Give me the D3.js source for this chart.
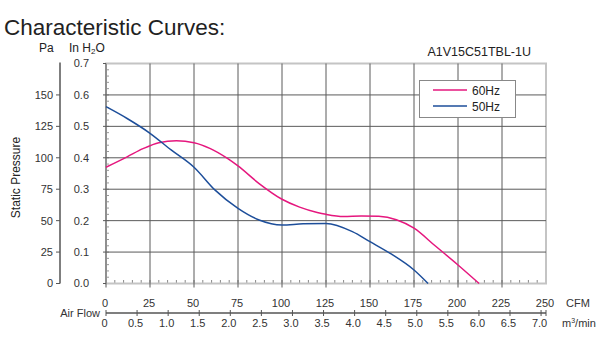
<!DOCTYPE html>
<html>
<head>
<meta charset="utf-8">
<script src="https://cdn.jsdelivr.net/npm/d3@7"></script>
<style>
  body { margin: 0; background: #fff; }
  svg { font-family: "Liberation Sans", Arial, sans-serif; }
  .lbl { font-size: 11px; fill: #333; }
</style>
</head>
<body>
<svg id="chart" width="600" height="350"></svg>
<script>
const cfm60 = [0, 12, 21, 30, 40, 50, 59, 69, 75, 87, 100, 110, 120, 125, 135, 145, 155, 165, 175, 187, 200, 212];
const p60 = [0.37, 0.403, 0.429, 0.448, 0.454, 0.448, 0.43, 0.398, 0.374, 0.318, 0.268, 0.243, 0.226, 0.22, 0.213, 0.215, 0.214, 0.203, 0.176, 0.12, 0.059, 0.0];
const cfm50 = [0, 12, 25, 37, 50, 62, 75, 87, 100, 112, 125, 140, 150, 162, 175, 183];
const p50 = [0.5625, 0.525, 0.478, 0.425, 0.37, 0.297, 0.239, 0.202, 0.186, 0.19, 0.191, 0.165, 0.133, 0.094, 0.043, 0.0];
const cfmTicks = [0, 25, 50, 75, 100, 125, 150, 175, 200, 225, 250];
const m3Ticks = [0, 0.5, 1, 1.5, 2, 2.5, 3, 3.5, 4, 4.5, 5, 5.5, 6, 6.5, 7];
const inTicks = [0, 0.1, 0.2, 0.3, 0.4, 0.5, 0.6, 0.7];
const paTicks = [0, 25, 50, 75, 100, 125, 150];
const series = [
  { name: "60Hz", color: "#e5177e", x: cfm60, y: p60 },
  { name: "50Hz", color: "#1d4e9a", x: cfm50, y: p50 }
];

const svg = d3.select("#chart");
const plotL = 106, plotR = 546, plotT = 63.5, plotB = 283.5;

const x = d3.scaleLinear().domain([0, 250]).range([plotL, plotR]);
const xm = d3.scaleLinear().domain([0, 250 / 35.3147]).range([plotL, plotR]);
const y = d3.scaleLinear().domain([0, 0.7]).range([plotB, plotT]);
const yPa = d3.scaleLinear().domain([0, 175]).range([plotB, plotT]);

// title
svg.append("text").attr("x", 4).attr("y", 35).attr("font-size", 22.5).attr("fill", "#222")
  .text("Characteristic Curves:");
svg.append("text").attr("x", 39).attr("y", 52).attr("font-size", 12).attr("fill", "#222").text("Pa");
const inh = svg.append("text").attr("x", 69).attr("y", 52).attr("font-size", 12).attr("fill", "#222");
inh.append("tspan").text("In H");
inh.append("tspan").attr("font-size", 8).attr("dy", 2).text("2");
inh.append("tspan").attr("dy", -2).text("O");
svg.append("text").attr("x", 531).attr("y", 56).attr("font-size", 12.5).attr("fill", "#222")
  .attr("text-anchor", "end").text("A1V15C51TBL-1U");

// minor ticks
const minorY = d3.range(0, 0.7001, 0.02);
svg.append("g").selectAll("line").data(minorY).join("line")
  .attr("x1", plotL).attr("x2", plotL + 3).attr("y1", d => y(d)).attr("y2", d => y(d))
  .attr("stroke", "#999").attr("stroke-width", 1);
const minorX = d3.range(0, 250.01, 5);
svg.append("g").selectAll("line").data(minorX).join("line")
  .attr("x1", d => x(d)).attr("x2", d => x(d)).attr("y1", plotB).attr("y2", plotB - 3.5)
  .attr("stroke", "#888").attr("stroke-width", 1);

// frame (light gray)
svg.append("rect").attr("x", plotL).attr("y", plotT).attr("width", plotR - plotL).attr("height", plotB - plotT)
  .attr("fill", "none").attr("stroke", "#c4c4c4").attr("stroke-width", 2);

// grid
svg.append("g").selectAll("line").data(cfmTicks.slice(1, -1)).join("line")
  .attr("x1", d => x(d)).attr("x2", d => x(d)).attr("y1", plotT).attr("y2", plotB + 4)
  .attr("stroke", "#5a5a5a").attr("stroke-width", 1);
svg.append("g").selectAll("line").data(inTicks.slice(1, -1)).join("line")
  .attr("x1", plotL - 3).attr("x2", plotR).attr("y1", d => y(d)).attr("y2", d => y(d))
  .attr("stroke", "#5a5a5a").attr("stroke-width", 1);
svg.append("line").attr("x1", plotL).attr("x2", plotL).attr("y1", plotT).attr("y2", plotB + 4)
  .attr("stroke", "#5a5a5a").attr("stroke-width", 1);
svg.append("g").selectAll("line").data([0, 0.7]).join("line")
  .attr("x1", plotL - 3).attr("x2", plotL).attr("y1", d => y(d)).attr("y2", d => y(d))
  .attr("stroke", "#5a5a5a");

// y labels
svg.append("g").selectAll("text").data(inTicks).join("text").attr("class", "lbl")
  .attr("x", 89).attr("y", d => y(d)).attr("dy", "0.36em").attr("text-anchor", "end")
  .text(d => d.toFixed(1));
svg.append("line").attr("x1", 60).attr("x2", 60).attr("y1", plotT - 1).attr("y2", plotB)
  .attr("stroke", "#555").attr("stroke-width", 1.5);
svg.append("g").selectAll("line").data(paTicks).join("line")
  .attr("x1", 56).attr("x2", 60).attr("y1", d => yPa(d)).attr("y2", d => yPa(d)).attr("stroke", "#555");
svg.append("g").selectAll("text").data(paTicks).join("text").attr("class", "lbl")
  .attr("x", 53).attr("y", d => yPa(d)).attr("dy", "0.36em").attr("text-anchor", "end")
  .text(d => d);
svg.append("text").attr("transform", `translate(20,${(plotT + plotB) / 2 + 4}) rotate(-90)`)
  .attr("text-anchor", "middle").attr("font-size", 12).attr("fill", "#222").text("Static Pressure");

// x labels
svg.append("g").selectAll("text").data(cfmTicks).join("text").attr("class", "lbl")
  .attr("x", d => x(d) - 1).attr("y", 307).attr("text-anchor", "middle").text(d => d);
svg.append("text").attr("class", "lbl").attr("x", 566).attr("y", 307).attr("font-size", 11.5).text("CFM");
const axisY = 313;
svg.append("line").attr("x1", plotL).attr("x2", plotR).attr("y1", axisY).attr("y2", axisY)
  .attr("stroke", "#555").attr("stroke-width", 1.5);
svg.append("g").selectAll("line").data(m3Ticks).join("line")
  .attr("x1", d => xm(d)).attr("x2", d => xm(d)).attr("y1", axisY - 3).attr("y2", axisY + 3)
  .attr("stroke", "#555");
svg.append("line").attr("x1", plotR).attr("x2", plotR).attr("y1", axisY - 3).attr("y2", axisY + 3).attr("stroke", "#555");
svg.append("g").selectAll("text").data(m3Ticks).join("text").attr("class", "lbl")
  .attr("x", d => xm(d) - 1.5).attr("y", 327).attr("text-anchor", "middle")
  .text(d => d === 0 ? "0" : d.toFixed(1));
const m3 = svg.append("text").attr("class", "lbl").attr("x", 562).attr("y", 327).attr("font-size", 10.5);
m3.append("tspan").text("m");
m3.append("tspan").attr("font-size", 7).attr("dy", -4).text("3");
m3.append("tspan").attr("dy", 4).text("/min");
svg.append("text").attr("class", "lbl").attr("x", 100).attr("y", 317).attr("text-anchor", "end")
  .attr("font-size", 11.5).text("Air Flow");

// curves
const line = d3.line().curve(d3.curveMonotoneX).x(d => x(d[0])).y(d => y(d[1]));
series.forEach(s => {
  svg.append("path").datum(d3.zip(s.x, s.y)).attr("d", line)
    .attr("fill", "none").attr("stroke", s.color).attr("stroke-width", 1.5);
});

// legend
const lg = svg.append("g");
lg.append("rect").attr("x", 419.5).attr("y", 80.5).attr("width", 96).attr("height", 37)
  .attr("fill", "#fff").attr("stroke", "#888").attr("stroke-width", 1);
series.forEach((s, i) => {
  const yy = 90 + i * 16;
  lg.append("line").attr("x1", 433).attr("x2", 467).attr("y1", yy).attr("y2", yy)
    .attr("stroke", s.color).attr("stroke-width", 1.5);
  lg.append("text").attr("x", 472).attr("y", yy + 4.5).attr("font-size", 12).attr("fill", "#222").text(s.name);
});
</script>
</body>
</html>
